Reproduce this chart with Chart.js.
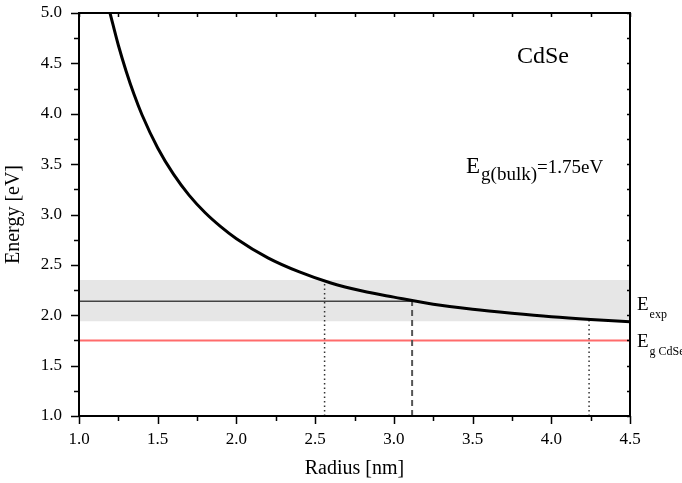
<!DOCTYPE html>
<html>
<head>
<meta charset="utf-8">
<script src="https://cdn.jsdelivr.net/npm/chart.js@4.4.1/dist/chart.umd.min.js"></script>
<style>
    html, body { margin: 0; padding: 0; background: #fff; }
    #wrap { width: 682px; height: 483px; }
</style>
</head>
<body>
<div id="wrap"><canvas id="chart"></canvas></div>
<script>
// curve
const radius = [1.197, 1.25, 1.3, 1.35, 1.4, 1.5, 1.6, 1.7, 1.8, 1.9, 2.0, 2.2, 2.4, 2.6, 2.8, 3.0, 3.25, 3.5, 3.75, 4.0, 4.25, 4.5];
const energy = [5.0, 4.68, 4.42, 4.19, 3.99, 3.66, 3.40, 3.19, 3.02, 2.88, 2.76, 2.57, 2.43, 2.32, 2.24, 2.18, 2.11, 2.06, 2.02, 1.985, 1.958, 1.936];

// reference levels
const bandTop = 2.35;
const bandBottom = 1.94;
const expEnergy = 2.14;
const bulkGap = 1.75;

// vertical drop lines: radius and where they meet the curve
const dotRadii = [2.56, 4.24];
const dotTops = [2.35, 1.96];
const dashRadius = 3.116;
const dashTop = 2.14;

const xMin = 1.0, xMax = 4.5;
const yMin = 1.0, yMax = 5.0;

const SERIF = "'Liberation Serif', 'DejaVu Serif', serif";

document.addEventListener("DOMContentLoaded", init);

function init() {
    const curve = radius.map((r, i) => ({ x: r, y: energy[i] }));

    const datasets = [
        {
            label: "band",
            data: [{ x: xMin, y: bandTop }, { x: xMax, y: bandTop }],
            borderWidth: 0,
            backgroundColor: "#e6e6e6",
            fill: { value: bandBottom },
            pointRadius: 0,
            order: 10
        },
        {
            label: "Eg CdSe",
            data: [{ x: xMin, y: bulkGap }, { x: xMax, y: bulkGap }],
            borderColor: "#ff6b6b",
            borderWidth: 2,
            pointRadius: 0,
            order: 5
        },
        {
            label: "Eexp",
            data: [{ x: xMin, y: expEnergy }, { x: dashRadius, y: expEnergy }],
            borderColor: "#444",
            borderWidth: 1.5,
            pointRadius: 0,
            order: 5
        },
        {
            label: "dash",
            data: [{ x: dashRadius, y: yMin }, { x: dashRadius, y: dashTop }],
            borderColor: "#555",
            borderWidth: 2,
            borderDash: [6, 4],
            pointRadius: 0,
            order: 4
        }
    ];

    dotRadii.forEach((r, i) => {
        datasets.push({
            label: "dot" + i,
            data: [{ x: r, y: yMin }, { x: r, y: dotTops[i] }],
            borderColor: "#333",
            borderWidth: 1.5,
            borderDash: [1.5, 3],
            pointRadius: 0,
            order: 4
        });
    });

    datasets.push({
        label: "E(R)",
        data: curve,
        borderColor: "#000",
        borderWidth: 3,
        pointRadius: 0,
        cubicInterpolationMode: "monotone",
        order: 0
    });

    new Chart(document.getElementById("chart"), {
        type: "line",
        data: { datasets },
        options: {
            responsive: true,
            maintainAspectRatio: false,
            animation: false,
            layout: { padding: { top: 13, right: 52, left: 0, bottom: 0 } },
            plugins: {
                legend: { display: false },
                tooltip: { enabled: false }
            },
            scales: {
                x: {
                    type: "linear",
                    min: xMin,
                    max: xMax,
                    grid: { display: false, drawTicks: false },
                    border: { display: false },
                    ticks: {
                        stepSize: 0.5,
                        padding: 13,
                        color: "#000",
                        font: { family: SERIF, size: 17 },
                        callback: v => v.toFixed(1)
                    },
                    title: {
                        display: true,
                        text: "Radius [nm]",
                        color: "#000",
                        font: { family: SERIF, size: 20 },
                        padding: { top: 0, bottom: 2 }
                    },
                    afterFit: s => {
                        s.height = 67;
                        s.paddingLeft = 0;
                        s.paddingRight = 0;
                    }
                },
                y: {
                    type: "linear",
                    min: yMin,
                    max: yMax,
                    grid: { display: false, drawTicks: false },
                    border: { display: false },
                    ticks: {
                        stepSize: 0.5,
                        padding: 17,
                        color: "#000",
                        font: { family: SERIF, size: 17 },
                        callback: v => v.toFixed(1)
                    },
                    title: {
                        display: true,
                        text: "Energy [eV]",
                        color: "#000",
                        font: { family: SERIF, size: 20 },
                        padding: { top: 2, bottom: 0 }
                    },
                    afterFit: s => {
                        s.width = 79;
                        s.paddingTop = 0;
                        s.paddingBottom = 0;
                    }
                }
            }
        },
        plugins: [frameTicks, labelText]
    });
}

/* ------------------- frame and tick marks ------------------ */

const frameTicks = {
    id: "frameTicks",
    afterDatasetsDraw(chart) {
        const { ctx, chartArea: a, scales } = chart;
        ctx.save();
        ctx.strokeStyle = "#000";
        ctx.lineWidth = 1.5;

        for (let v = xMin; v <= xMax + 1e-9; v += 0.25) {
            const px = Math.round(scales.x.getPixelForValue(v)) + 0.5;
            const major = Math.abs(v * 2 - Math.round(v * 2)) < 1e-6;
            ctx.beginPath();
            ctx.moveTo(px, a.bottom);
            ctx.lineTo(px, a.bottom + (major ? 8 : 5));
            ctx.moveTo(px, a.top);
            ctx.lineTo(px, a.top + 4);
            ctx.stroke();
        }
        for (let v = yMin; v <= yMax + 1e-9; v += 0.25) {
            const py = Math.round(scales.y.getPixelForValue(v)) + 0.5;
            const major = Math.abs(v * 2 - Math.round(v * 2)) < 1e-6;
            ctx.beginPath();
            ctx.moveTo(a.left, py);
            ctx.lineTo(a.left - (major ? 8 : 5), py);
            ctx.moveTo(a.right, py);
            ctx.lineTo(a.right - 3, py);
            ctx.stroke();
        }

        ctx.lineWidth = 2;
        ctx.strokeRect(a.left, a.top, a.right - a.left, a.bottom - a.top);
        ctx.restore();
    }
};

/* ------------------- text annotations ------------------ */

function subText(ctx, x, y, main, mainSize, sub, subSize, subDrop) {
    ctx.font = mainSize + "px " + SERIF;
    ctx.fillText(main, x, y);
    const w = ctx.measureText(main).width;
    ctx.font = subSize + "px " + SERIF;
    ctx.fillText(sub, x + w + 1, y + subDrop);
    return x + w + 1 + ctx.measureText(sub).width;
}

const labelText = {
    id: "labelText",
    afterDraw(chart) {
        const { ctx } = chart;
        ctx.save();
        ctx.fillStyle = "#000";
        ctx.textBaseline = "alphabetic";
        ctx.textAlign = "left";

        ctx.font = "24px " + SERIF;
        ctx.fillText("CdSe", 517, 63);

        const endX = subText(ctx, 466, 173, "E", 23, "g(bulk)", 19, 7);
        ctx.font = "19px " + SERIF;
        ctx.fillText("=1.75eV", endX, 173);

        subText(ctx, 637, 310, "E", 19, "exp", 12, 8);
        subText(ctx, 637, 347, "E", 19, "g CdSe", 12, 8);
        ctx.restore();
    }
};
</script>
</body>
</html>
